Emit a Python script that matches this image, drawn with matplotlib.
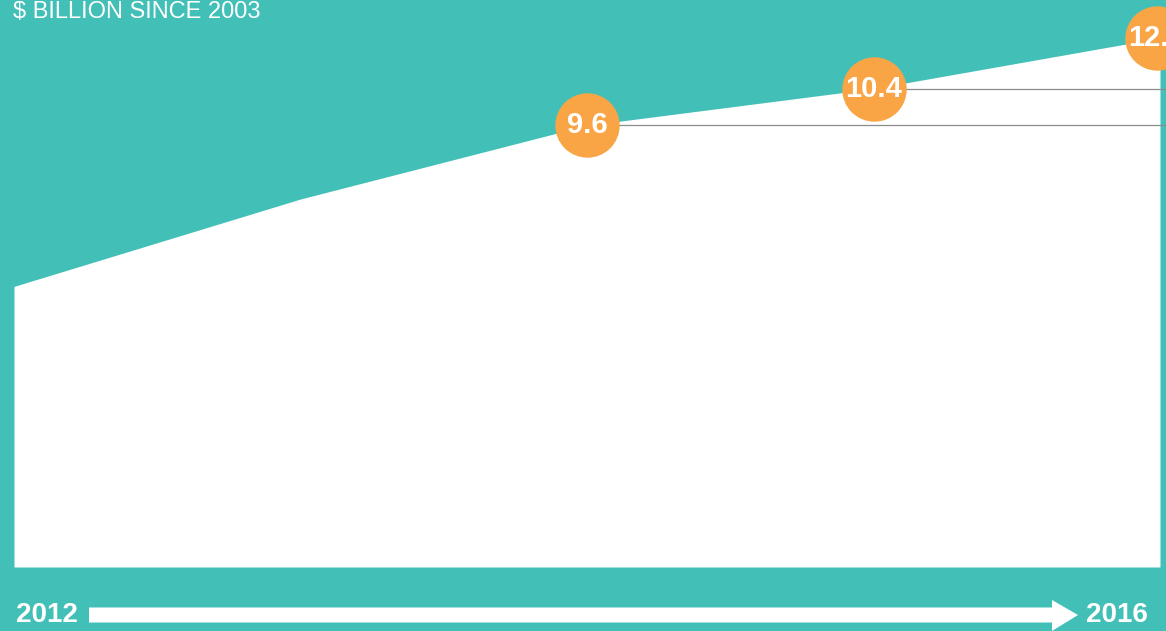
import matplotlib
matplotlib.use("Agg")
import matplotlib.pyplot as plt
from matplotlib import font_manager
from matplotlib.patches import Polygon

# ---- data ----
years = ["2012", "2013", "2014", "2015", "2016"]
values = [6.1, 8.0, 9.6, 10.4, 11.5]
labels = ["", "", "9.6", "10.4", "12.0"]
title = "$ BILLION SINCE 2003"

TEAL = "#42C0B8"
ORANGE = "#F9A445"
GRAY = "#8C8C8C"

names = {f.name for f in font_manager.fontManager.ttflist}
if "Liberation Sans Narrow" in names:
    FONT = "Liberation Sans Narrow"
    SZ_TITLE, SZ_NUM, SZ_YEAR = 20.5, 25, 24
else:
    FONT = "Liberation Sans"
    SZ_TITLE, SZ_NUM, SZ_YEAR = 17, 21, 20

W, H = 1166, 631
fig = plt.figure(figsize=(W / 100, H / 100), dpi=100, facecolor=TEAL)

# axes placed in pixel terms: x 14..1160, y baseline at 567 px from top
left, right = 14, 1160
base = 567
px_per_unit = 46.0
ax = fig.add_axes([left / W, (H - base) / H, (right - left) / W, base / H])
ax.set_facecolor(TEAL)
ax.set_xlim(0, len(years) - 1)
ax.set_ylim(0, base / px_per_unit)
ax.axis("off")

x = list(range(len(years)))
ax.fill_between(x, values, 0, color="white", lw=0, zorder=1)

# reference lines and circles
for i, (v, lab) in enumerate(zip(values, labels)):
    if not lab:
        continue
    if i < len(x) - 1:
        ax.hlines(v, i, len(x) - 1 + 0.03, color=GRAY, lw=0.9, zorder=2, clip_on=False)
    xi = i - 0.012 if i == len(x) - 1 else i
    ax.scatter([xi], [v], s=2150, color=ORANGE, zorder=3, clip_on=False, lw=0)
    ax.text(xi, v, lab, ha="center", va="center", color="white", fontsize=SZ_NUM,
            fontweight="bold", family=FONT, zorder=4, clip_on=False)

# title
fig.text(13 / W, 1 - 1 / H, title, ha="left", va="top", color="white",
         fontsize=SZ_TITLE, family=FONT)

# bottom year labels
fig.text(16 / W, 1 - 615 / H, years[0], ha="left", va="center", color="white",
         fontsize=SZ_YEAR, fontweight="bold", family=FONT)
fig.text(1148 / W, 1 - 615 / H, years[-1], ha="right", va="center", color="white",
         fontsize=SZ_YEAR, fontweight="bold", family=FONT)

# arrow (decoration) in pixel space
def P(px, py):
    return (px / W, 1 - py / H)

arrow = Polygon([P(89, 607.5), P(1052, 607.5), P(1052, 600), P(1078, 615),
                 P(1052, 631), P(1052, 622.5), P(89, 622.5)],
                closed=True, facecolor="white", edgecolor="none",
                transform=fig.transFigure)
fig.patches.append(arrow)

fig.savefig("out.png", dpi=100, facecolor=TEAL)
